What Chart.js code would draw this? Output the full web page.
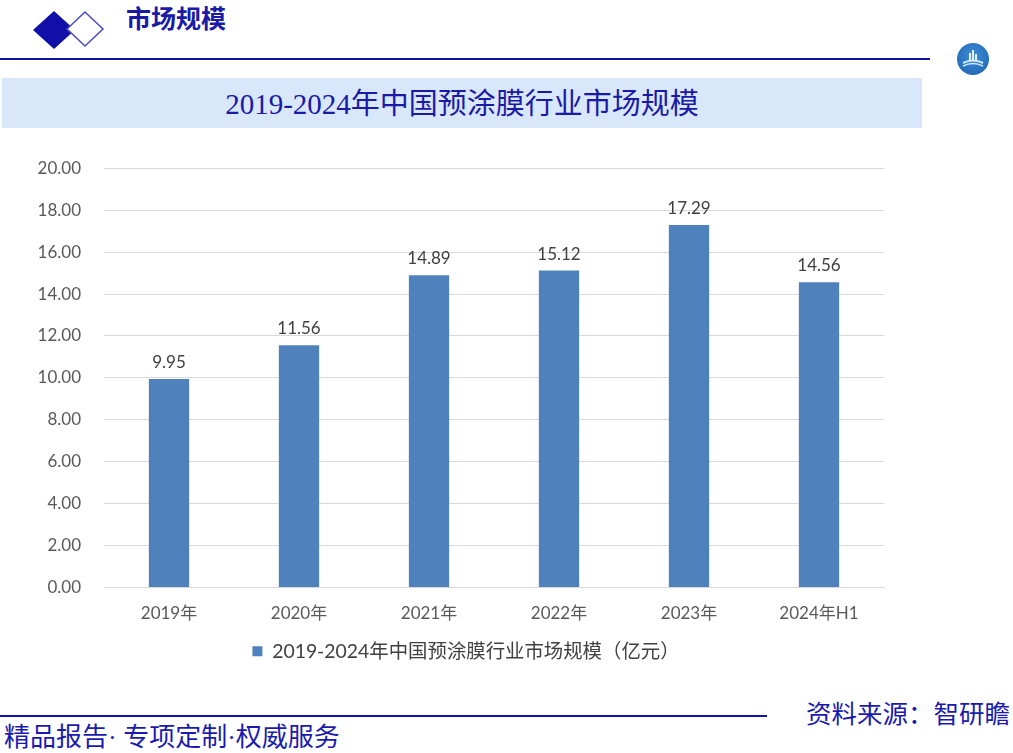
<!DOCTYPE html>
<html><head><meta charset="utf-8">
<script src="https://cdn.jsdelivr.net/npm/chart.js@4/dist/chart.umd.min.js"></script>
<style>
html,body{margin:0;padding:0;background:#fff;width:1013px;height:753px;overflow:hidden;position:relative;font-family:"Liberation Serif","Noto Sans CJK SC",serif;}
.abs{position:absolute;}
#hdrTitle{left:126px;top:4px;font-size:25px;font-weight:bold;color:#1a1aa6;line-height:32px;font-family:"Liberation Serif","Noto Sans CJK SC",serif;}
#hline{left:0;top:58px;width:930px;height:2px;background:#1010a0;}
#band{left:2px;top:78px;width:920px;height:50px;background:#d9e7fb;}
#title{left:2px;top:78px;width:920px;height:50px;line-height:52px;text-align:center;font-size:29px;color:#1a1aa6;font-family:"Liberation Serif","Noto Sans CJK SC",serif;}
#logo{left:957px;top:43px;width:32px;height:32px;border-radius:50%;background:radial-gradient(circle at 50% 40%,#3f8fd6,#1a5fae);}
#fline{left:0;top:715px;width:767px;height:2px;background:#1010b0;}
#ftl{left:4px;top:722px;font-size:26px;color:#1a1ab0;line-height:32px;}
#ftr{left:806px;top:699px;font-size:25.5px;color:#1a1ab0;line-height:32px;}
#cv{position:absolute;left:0;top:135px;}
</style></head><body>
<svg class="abs" style="left:30px;top:8px" width="80" height="44">
<polygon points="3,22 24,3 45,22 24,41" fill="#1010a8"/>
<polygon points="37,21 55,4 73,21 55,38" fill="#fff" stroke="#4a4ac8" stroke-width="1.5"/>
</svg>
<div id="hdrTitle" class="abs">市场规模</div>
<div id="hline" class="abs"></div>
<div id="logo" class="abs">
<svg width="32" height="32"><path d="M6 20 Q16 15 26 20" stroke="#cfe8ff" stroke-width="2" fill="none"/><path d="M6 23 Q16 18 26 23" stroke="#cfe8ff" stroke-width="1.5" fill="none"/><rect x="12" y="10" width="2" height="8" fill="#e6f3ff"/><rect x="15" y="7" width="2" height="11" fill="#e6f3ff"/><rect x="18" y="11" width="2" height="7" fill="#e6f3ff"/></svg>
</div>
<div id="band" class="abs"></div>
<div id="title" class="abs">2019-2024年中国预涂膜行业市场规模</div>
<canvas id="cv" width="1013" height="536"></canvas>
<div id="fline" class="abs"></div>
<div id="ftl" class="abs">精品报告· 专项定制·权威服务</div>
<div id="ftr" class="abs">资料来源：智研瞻</div>
<script>
const categories = ["2019年","2020年","2021年","2022年","2023年","2024年H1"];
const marketSize = [9.95, 11.56, 14.89, 15.12, 17.29, 14.56];
const seriesName = "2019-2024年中国预涂膜行业市场规模（亿元）";
const yTicks = [0,2,4,6,8,10,12,14,16,18,20];

const FONT = "Lato, 'Noto Sans CJK SC', sans-serif";
const labelPlugin = {
  id:'vals',
  afterLayout(chart){
    const lg = chart.legend;
    if (lg) { lg.left += 24; lg.right += 24; }
  },
  afterDatasetsDraw(chart){
    const ctx = chart.ctx;
    const meta = chart.getDatasetMeta(0);
    ctx.save();
    ctx.font = "17px " + FONT;
    ctx.fillStyle = "#404040";
    ctx.textAlign = "center";
    ctx.textBaseline = "bottom";
    meta.data.forEach((el,i)=>{
      ctx.fillText(marketSize[i].toFixed(2), el.x, el.y - 8);
    });
    ctx.restore();
  }
};
new Chart(document.getElementById('cv'),{
  type:'bar',
  data:{labels:categories,datasets:[{label:seriesName,data:marketSize,backgroundColor:'#4f81bd',categoryPercentage:1,barPercentage:0.31}]},
  options:{
    responsive:false,animation:false,
    layout:{padding:{top:16,left:0,right:129,bottom:0}},
    plugins:{
      legend:{position:'bottom',labels:{boxWidth:10,boxHeight:10,padding:14,color:'#404040',font:{size:19.4,family:FONT}}},
      tooltip:{enabled:false}
    },
    scales:{
      x:{grid:{display:false},border:{color:'#d9d9d9'},ticks:{color:'#595959',padding:8,font:{size:17,family:FONT}},
         afterFit(s){s.height=40;}},
      y:{min:0,max:20,afterBuildTicks(s){s.ticks=yTicks.map(v=>({value:v}));},
         grid:{color:'#d9d9d9',drawTicks:false},border:{display:false},
         ticks:{color:'#595959',padding:23,font:{size:17,family:FONT},callback:v=>v.toFixed(2)},
         afterFit(s){s.width=104;}}
    }
  },
  plugins:[labelPlugin]
});
</script>
</body></html>
